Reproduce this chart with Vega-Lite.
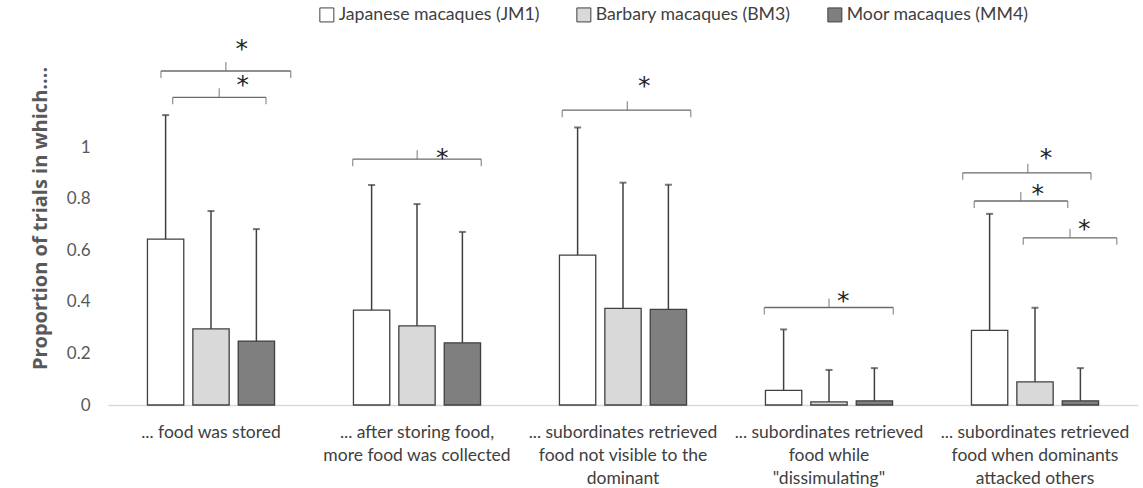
{
  "$schema": "https://vega.github.io/schema/vega-lite/v6.json",
  "width": 1030,
  "height": 374,
  "autosize": {"type": "none"},
  "padding": {"left": 108, "top": 31, "right": 5, "bottom": 83},
  "background": "white",
  "config": {"view": {"stroke": null}, "font": "Lato"},
  "datasets": {
    "bars": [
      {"cat": "... food was stored", "species": "Japanese macaques (JM1)", "value": 0.643, "upper": 1.124},
      {"cat": "... food was stored", "species": "Barbary macaques (BM3)", "value": 0.295, "upper": 0.752},
      {"cat": "... food was stored", "species": "Moor macaques (MM4)", "value": 0.248, "upper": 0.682},
      {"cat": "... after storing food,|more food was collected", "species": "Japanese macaques (JM1)", "value": 0.368, "upper": 0.853},
      {"cat": "... after storing food,|more food was collected", "species": "Barbary macaques (BM3)", "value": 0.307, "upper": 0.779},
      {"cat": "... after storing food,|more food was collected", "species": "Moor macaques (MM4)", "value": 0.241, "upper": 0.671},
      {"cat": "... subordinates retrieved|food not visible to the|dominant", "species": "Japanese macaques (JM1)", "value": 0.581, "upper": 1.076},
      {"cat": "... subordinates retrieved|food not visible to the|dominant", "species": "Barbary macaques (BM3)", "value": 0.375, "upper": 0.862},
      {"cat": "... subordinates retrieved|food not visible to the|dominant", "species": "Moor macaques (MM4)", "value": 0.371, "upper": 0.854},
      {"cat": "... subordinates retrieved|food while|\"dissimulating\"", "species": "Japanese macaques (JM1)", "value": 0.057, "upper": 0.293},
      {"cat": "... subordinates retrieved|food while|\"dissimulating\"", "species": "Barbary macaques (BM3)", "value": 0.012, "upper": 0.136},
      {"cat": "... subordinates retrieved|food while|\"dissimulating\"", "species": "Moor macaques (MM4)", "value": 0.016, "upper": 0.143},
      {"cat": "... subordinates retrieved|food when dominants|attacked others", "species": "Japanese macaques (JM1)", "value": 0.289, "upper": 0.741},
      {"cat": "... subordinates retrieved|food when dominants|attacked others", "species": "Barbary macaques (BM3)", "value": 0.09, "upper": 0.377},
      {"cat": "... subordinates retrieved|food when dominants|attacked others", "species": "Moor macaques (MM4)", "value": 0.016, "upper": 0.143}
    ],
    "brackets": [
      {"x1": 0.257, "x2": 0.887, "y": 1.295, "xm": 0.572, "xs": 0.649, "ys": 1.408, "sig": "*"},
      {"x1": 0.314, "x2": 0.767, "y": 1.193, "xm": 0.540, "xs": 0.654, "ys": 1.269, "sig": "*"},
      {"x1": 1.188, "x2": 1.812, "y": 0.953, "xm": 1.501, "xs": 1.623, "ys": 0.984, "sig": "*"},
      {"x1": 2.205, "x2": 2.829, "y": 1.143, "xm": 2.521, "xs": 2.603, "ys": 1.264, "sig": "*"},
      {"x1": 3.186, "x2": 3.812, "y": 0.378, "xm": 3.500, "xs": 3.569, "ys": 0.429, "sig": "*"},
      {"x1": 4.149, "x2": 4.772, "y": 0.900, "xm": 4.465, "xs": 4.553, "ys": 0.986, "sig": "*"},
      {"x1": 4.205, "x2": 4.659, "y": 0.791, "xm": 4.431, "xs": 4.513, "ys": 0.846, "sig": "*"},
      {"x1": 4.443, "x2": 4.897, "y": 0.648, "xm": 4.670, "xs": 4.739, "ys": 0.710, "sig": "*"}
    ]
  },
  "layer": [
    {
      "data": {"name": "bars"},
      "encoding": {
        "x": {
          "field": "cat", "type": "nominal", "sort": null,
          "scale": {"paddingInner": 0.383, "paddingOuter": 0.1915},
          "axis": {
            "title": null, "labelAngle": 0, "ticks": false,
            "domainColor": "#d9d9d9", "domainWidth": 1.5,
            "labelExpr": "split(datum.label, '|')",
            "labelFont": "Lato", "labelFontSize": 17.5, "labelColor": "#404040",
            "labelLineHeight": 23, "labelPadding": 27, "labelBaseline": "middle",
            "labelLimit": 0
          }
        },
        "xOffset": {
          "field": "species", "type": "nominal",
          "sort": ["Japanese macaques (JM1)", "Barbary macaques (BM3)", "Moor macaques (MM4)"],
          "scale": {"paddingInner": 0.2, "paddingOuter": 0}
        }
      },
      "layer": [
        {
          "mark": {"type": "bar", "stroke": "#404040", "strokeWidth": 1.3},
          "encoding": {
            "y": {
              "field": "value", "type": "quantitative",
              "scale": {"domain": [0, 1.45], "nice": false, "zero": true},
              "axis": {
                "title": "Proportion of trials in which....",
                "values": [0, 0.2, 0.4, 0.6, 0.8, 1], "format": "~g",
                "domain": false, "ticks": false, "grid": false,
                "labelFont": "Lato", "labelFontSize": 17, "labelColor": "#595959", "labelPadding": 18,
                "titleFont": "Open Sans", "titleFontSize": 20, "titleFontWeight": "bold", "titleColor": "#595959",
                "titlePadding": 16
              }
            },
            "fill": {
              "field": "species", "type": "nominal",
              "scale": {
                "domain": ["Japanese macaques (JM1)", "Barbary macaques (BM3)", "Moor macaques (MM4)"],
                "range": ["#ffffff", "#d9d9d9", "#7f7f7f"]
              },
              "legend": {
                "title": null, "orient": "none", "direction": "horizontal",
                "legendX": 210, "legendY": -25, "padding": 0,
                "symbolType": "square", "symbolSize": 196, "symbolStrokeColor": "#404040", "symbolStrokeWidth": 1,
                "labelFont": "Lato", "labelFontSize": 17.7, "labelColor": "#404040", "labelLimit": 0,
                "labelOffset": 3, "columnPadding": 34
              }
            }
          }
        },
        {
          "mark": {"type": "rule", "color": "#404040", "strokeWidth": 1.5},
          "encoding": {
            "y": {"field": "value", "type": "quantitative"},
            "y2": {"field": "upper"}
          }
        },
        {
          "mark": {"type": "tick", "orient": "horizontal", "color": "#404040", "thickness": 2, "size": 7},
          "encoding": {
            "y": {"field": "upper", "type": "quantitative"}
          }
        }
      ]
    },
    {
      "data": {"name": "brackets"},
      "encoding": {
        "y": {"field": "y", "type": "quantitative"}
      },
      "layer": [
        {
          "mark": {"type": "rule", "color": "#6b6b6b", "strokeWidth": 1.3},
          "encoding": {
            "x": {"field": "x1", "type": "quantitative", "scale": {"domain": [0, 5], "nice": false, "zero": false}, "axis": null},
            "x2": {"field": "x2"}
          }
        },
        {
          "mark": {"type": "tick", "orient": "vertical", "color": "#6b6b6b", "thickness": 1.3, "size": 7, "yOffset": 3.5},
          "encoding": {"x": {"field": "x1", "type": "quantitative"}}
        },
        {
          "mark": {"type": "tick", "orient": "vertical", "color": "#6b6b6b", "thickness": 1.3, "size": 7, "yOffset": 3.5},
          "encoding": {"x": {"field": "x2", "type": "quantitative"}}
        },
        {
          "mark": {"type": "tick", "orient": "vertical", "color": "#6b6b6b", "thickness": 1.3, "size": 9, "yOffset": -4.5},
          "encoding": {"x": {"field": "xm", "type": "quantitative"}}
        },
        {
          "mark": {"type": "text", "font": "DejaVu Sans", "fontSize": 25, "fill": "#262626", "baseline": "alphabetic", "dy": 15},
          "encoding": {
            "x": {"field": "xs", "type": "quantitative"},
            "y": {"field": "ys", "type": "quantitative"},
            "text": {"field": "sig"}
          }
        }
      ]
    }
  ],
  "resolve": {"scale": {"x": "independent"}, "axis": {"x": "independent"}}
}
